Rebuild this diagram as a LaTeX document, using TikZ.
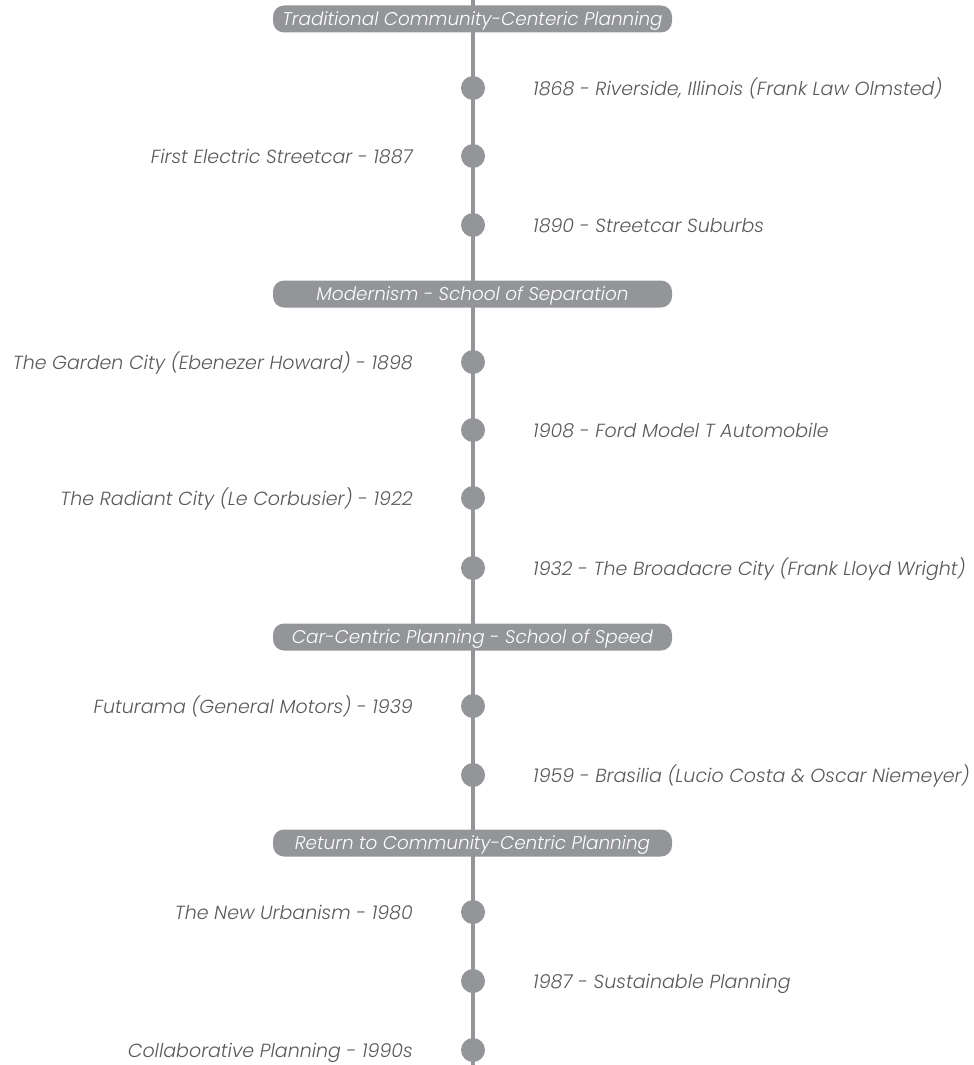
\documentclass[tikz,border=0pt]{standalone}
\usepackage{fontspec}
\setmainfont{Poppins}[UprightFont=* Light, ItalicFont=* Light Italic]
\usetikzlibrary{calc}
\definecolor{tlgray}{HTML}{939598}
\definecolor{txtgray}{HTML}{58595B}
\tikzset{
  tline/.style={line width=4.5pt, draw=tlgray},
  dotmark/.style={circle, fill=tlgray, minimum size=24pt, inner sep=0pt},
  header/.style={rounded corners=11pt, fill=tlgray, text=white, minimum width=399pt, minimum height=27pt, inner sep=0pt, text height=13.5pt, text depth=0pt, font=\fontsize{18.4}{22}\selectfont\itshape},
  rlabel/.style={anchor=west, text=txtgray, inner sep=0pt, text height=14pt, text depth=0pt, font=\fontsize{19}{22}\selectfont\itshape},
  llabel/.style={anchor=east, text=txtgray, inner sep=0pt, text height=14pt, text depth=0pt, font=\fontsize{19}{22}\selectfont\itshape}
}
\begin{document}
\begin{tikzpicture}[x=1pt,y=-1pt]
\useasboundingbox (0,0) rectangle (974,1065);
\coordinate (top) at (473,0);
\coordinate (bot) at (473,1065);
\draw[tline] (top) -- (bot);
% headers
\node[header] (h1) at (472.5,19) {Traditional Community-Centeric Planning};
\node[header] (h2) at (472.5,294) {Modernism - School of Separation};
\node[header] (h3) at (472.5,637) {Car-Centric Planning - School of Speed};
\node[header] (h4) at (472.5,843) {Return to Community-Centric Planning};
% dots
\node[dotmark] (d1) at (473,88) {};
\node[dotmark] (d2) at (473,156) {};
\node[dotmark] (d3) at (473,225) {};
\node[dotmark] (d4) at (473,362) {};
\node[dotmark] (d5) at (473,430) {};
\node[dotmark] (d6) at (473,498) {};
\node[dotmark] (d7) at (473,568) {};
\node[dotmark] (d8) at (473,706) {};
\node[dotmark] (d9) at (473,775) {};
\node[dotmark] (d10) at (473,912) {};
\node[dotmark] (d11) at (473,981) {};
\node[dotmark] (d12) at (473,1050) {};
% labels
\node[rlabel] (t1) at (533,88) {1868 - Riverside, Illinois (Frank Law Olmsted)};
\node[llabel] (t2) at (413,156) {First Electric Streetcar - 1887};
\node[rlabel] (t3) at (533,225) {1890 - Streetcar Suburbs};
\node[llabel] (t4) at (413,362) {The Garden City (Ebenezer Howard) - 1898};
\node[rlabel] (t5) at (533,430) {1908 - Ford Model T Automobile};
\node[llabel] (t6) at (413,498) {The Radiant City (Le Corbusier) - 1922};
\node[rlabel] (t7) at (533,568) {1932 - The Broadacre City (Frank Lloyd Wright)};
\node[llabel] (t8) at (413,706) {Futurama (General Motors) - 1939};
\node[rlabel] (t9) at (533,775) {1959 - Brasilia (Lucio Costa \& Oscar Niemeyer)};
\node[llabel] (t10) at (413,912) {The New Urbanism - 1980};
\node[rlabel] (t11) at (533,981) {1987 - Sustainable Planning};
\node[llabel] (t12) at (413,1050) {Collaborative Planning - 1990s};
\end{tikzpicture}
\end{document}
